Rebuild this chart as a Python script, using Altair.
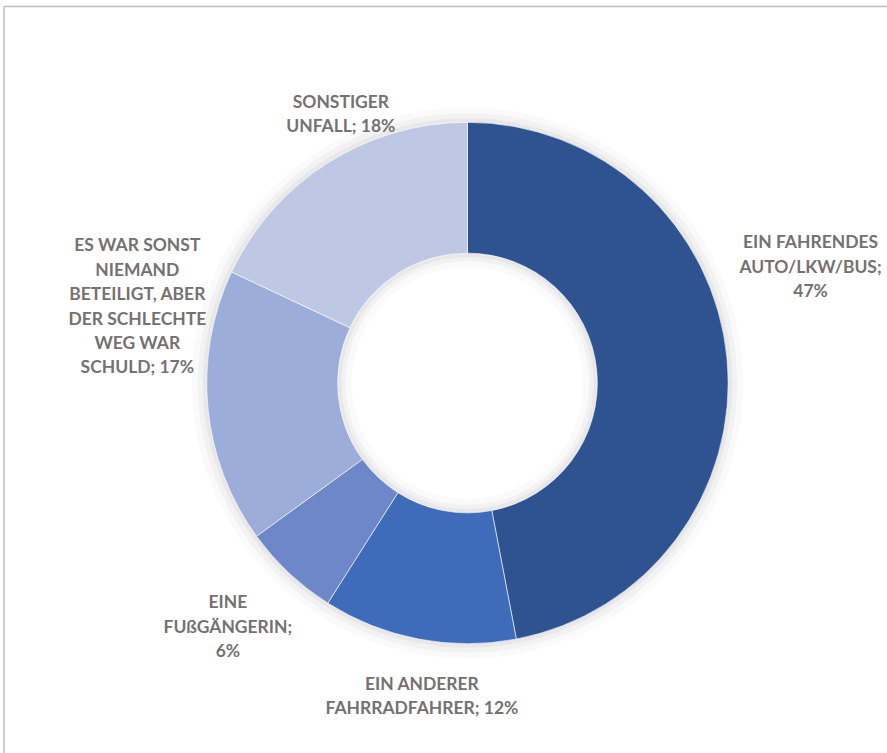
import altair as alt
import pandas as pd

categories = [
    "EIN FAHRENDES AUTO/LKW/BUS",
    "EIN ANDERER FAHRRADFAHRER",
    "EINE FUßGÄNGERIN",
    "ES WAR SONST NIEMAND BETEILIGT, ABER DER SCHLECHTE WEG WAR SCHULD",
    "SONSTIGER UNFALL",
]
values = [47, 12, 6, 17, 18]
label_texts = [
    "EIN FAHRENDES\nAUTO/LKW/BUS;\n47%",
    "EIN ANDERER\nFAHRRADFAHRER; 12%",
    "EINE\nFUßGÄNGERIN;\n6%",
    "ES WAR SONST\nNIEMAND\nBETEILIGT, ABER\nDER SCHLECHTE\nWEG WAR\nSCHULD; 17%",
    "SONSTIGER\nUNFALL; 18%",
]
colors = ["#2F5291", "#3E6CBA", "#6E87C9", "#9CADD9", "#BEC8E4"]

df = pd.DataFrame({
    "cat": categories,
    "value": values,
    "label": label_texts,
    "idx": list(range(len(categories))),
})

CX, CY = 464, 377
R_OUT, R_IN = 261, 130
LH = 24.5

base = alt.Chart(df)
theta_scale = alt.Scale(domain=[0, 100])

# soft shadow rings
shadows = []
for ro, ri, op in [(276, 116, 0.02), (270, 122, 0.03), (265, 126, 0.04)]:
    shadows.append(
        alt.Chart(pd.DataFrame({"a": [0]})).mark_arc(
            theta=0, theta2=6.2832, outerRadius=ro, innerRadius=ri,
            color="#000000", opacity=op
        ).encode(x=alt.value(CX), y=alt.value(CY))
    )

# chart frame (left and top edges only visible)
frame_left = alt.Chart(pd.DataFrame({"a": [0]})).mark_rule(color="#BFBFBF", strokeWidth=1.5).encode(
    x=alt.value(0), y=alt.value(0), y2=alt.value(800)
)
frame_top = alt.Chart(pd.DataFrame({"a": [0]})).mark_rule(color="#BFBFBF", strokeWidth=1.5).encode(
    x=alt.value(0), x2=alt.value(950), y=alt.value(0)
)

arcs = base.mark_arc(outerRadius=R_OUT, innerRadius=R_IN, stroke="#ffffff", strokeWidth=0.6).encode(
    theta=alt.Theta("value:Q", stack=True, scale=theta_scale),
    color=alt.Color("cat:N", scale=alt.Scale(domain=categories, range=colors), legend=None),
    order=alt.Order("idx:Q"),
    x=alt.value(CX),
    y=alt.value(CY),
)

# label placement: radius along slice mid-angle plus small nudges
placements = [
    (345, 0, -83),
    (318, 14, 2),
    (346, -3, -7),
    (332, 0, -107),
    (300, 34, -15),
]

label_layers = []
for cat, txt, (r, dx, dy) in zip(categories, label_texts, placements):
    n = txt.count("\n") + 1
    label_layers.append(
        base.transform_window(
            cum="sum(value)", sort=[alt.SortField("idx")]
        ).transform_calculate(
            mid="datum.cum - datum.value / 2"
        ).transform_filter(
            alt.datum.cat == cat
        ).mark_text(
            radius=r, dx=dx, dy=dy - (n - 1) * LH / 2, font="Lato", fontWeight="bold", fontSize=17.5,
            color="#767171", lineBreak="\n", lineHeight=LH, align="center", baseline="middle"
        ).encode(
            theta=alt.Theta("mid:Q", stack=None, scale=theta_scale),
            text="label:N",
            x=alt.value(CX),
            y=alt.value(CY),
        )
    )

chart = alt.layer(*shadows, arcs, *label_layers, frame_left, frame_top).properties(
    width=884, height=748,
    padding={"left": 4, "top": 6, "right": 0, "bottom": 0},
    autosize=alt.AutoSizeParams(type="none"),
    background="#ffffff",
).configure_view(stroke=None)

chart.save("out.html", embed_options={"renderer": "svg", "actions": False})
